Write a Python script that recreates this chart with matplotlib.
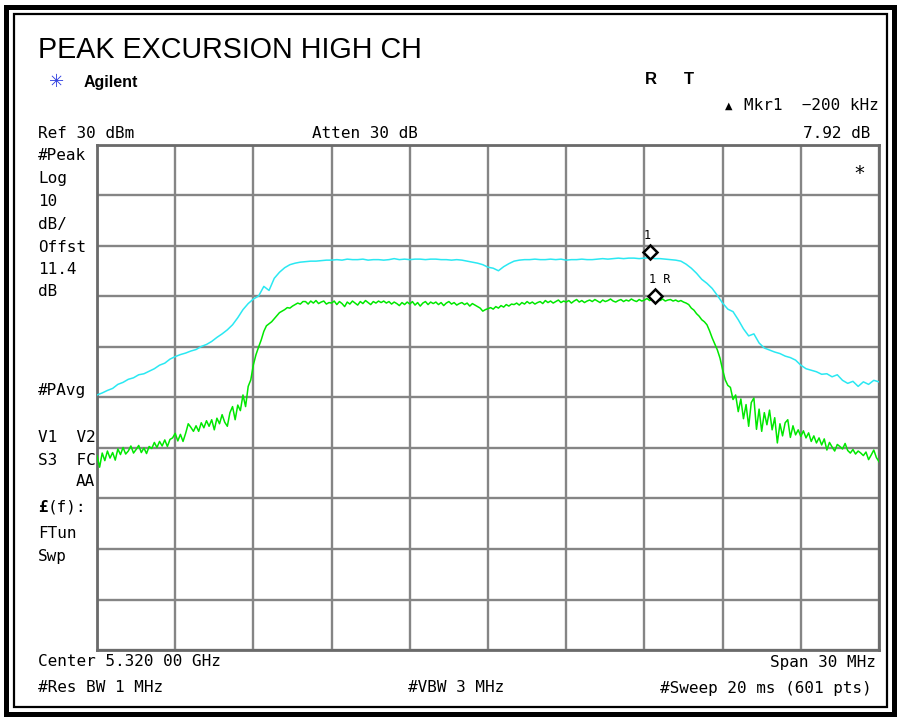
import numpy as np
import matplotlib
matplotlib.use("Agg")
import matplotlib.pyplot as plt
from matplotlib.patches import Rectangle
from matplotlib.transforms import ScaledTranslation

# ---------------- data ----------------
center_ghz = 5.320
span_mhz = 30.0
ref_level = 30.0
db_per_div = 10.0

# Peak trace (cyan), every 0.2 MHz from -15 to +15 MHz offset
cyan_freq_step = 0.2
cyan_dbm = [
    -19.5, -19.1, -18.6, -18.2, -17.4, -17.0, -16.4, -16.1, -15.5, -15.3,
    -14.8, -14.3, -13.6, -13.2, -12.4, -11.9, -11.5, -11.2, -10.8, -10.5,
    -9.9, -9.5, -8.9, -8.1, -7.4, -6.6, -5.6, -4.2, -2.6, -1.4,
    -0.5, 0.1, 2.0, 1.2, 3.6, 4.8, 5.7, 6.3, 6.6, 6.8,
    6.9, 7.0, 7.0, 7.1, 7.2, 7.2, 7.3, 7.2, 7.4, 7.3,
    7.3, 7.4, 7.2, 7.3, 7.3, 7.2, 7.3, 7.5, 7.3, 7.4,
    7.3, 7.4, 7.4, 7.3, 7.4, 7.4, 7.3, 7.3, 7.2, 7.3,
    7.2, 7.0, 6.8, 6.6, 6.3, 5.8, 5.6, 5.1, 5.9, 6.5,
    7.0, 7.2, 7.3, 7.3, 7.4, 7.3, 7.3, 7.4, 7.3, 7.4,
    7.2, 7.3, 7.3, 7.4, 7.3, 7.3, 7.4, 7.5, 7.4, 7.5,
    7.6, 7.5, 7.6, 7.6, 7.5, 7.6, 7.7, 7.5, 7.5, 7.4,
    7.3, 7.2, 7.0, 6.4, 5.6, 4.6, 3.4, 2.6, 1.6, 0.2,
    -1.3, -2.5, -3.0, -4.6, -6.4, -7.8, -7.4, -9.2, -10.2, -10.6,
    -11.0, -11.3, -11.8, -12.1, -12.6, -13.6, -14.3, -14.6, -14.9, -15.4,
    -15.3, -15.9, -15.5, -16.6, -17.2, -16.8, -17.8, -16.9, -17.4, -16.6,
    -16.9,
]

# Average trace (green), every 0.1 MHz from -15 to +15 MHz offset
green_freq_step = 0.1
green_dbm = [
    -31.5, -33.8, -31.0, -32.5, -30.6, -32.0, -30.9, -32.4, -30.2, -31.3,
    -29.9, -31.2, -30.6, -29.6, -31.0, -30.3, -29.5, -30.9, -30.0, -31.1,
    -29.7, -30.1, -28.9, -29.9, -28.7, -29.6, -28.4, -29.7, -28.3, -28.0,
    -27.1, -28.6, -27.3, -28.7, -27.1, -25.2, -25.9, -26.7, -25.6, -26.7,
    -25.0, -26.0, -24.6, -25.7, -24.4, -26.4, -24.1, -25.2, -23.4, -24.9,
    -25.7, -23.0, -21.8, -24.4, -21.5, -22.6, -19.5, -21.8, -17.8, -16.5,
    -13.5, -11.5, -10.0, -8.6, -6.9, -5.8, -5.4, -5.0, -4.4, -3.8,
    -3.2, -2.9, -2.6, -2.2, -2.3, -1.9, -1.6, -1.3, -1.5, -1.0,
    -1.0, -1.5, -0.9, -1.3, -0.8, -1.4, -1.1, -0.9, -1.5, -1.2,
    -1.3, -0.9, -1.6, -1.0, -1.4, -2.0, -1.1, -1.5, -0.9, -1.3,
    -1.7, -1.0, -1.4, -0.8, -1.2, -1.6, -1.0, -1.3, -0.9, -1.2,
    -0.9, -1.3, -1.0, -1.5, -1.1, -1.4, -1.8, -1.2, -1.6, -1.1,
    -1.5, -1.0, -1.7, -1.2, -1.9, -1.3, -1.0, -1.6, -1.1, -1.4,
    -1.1, -1.6, -1.2, -1.8, -1.3, -1.0, -1.5, -1.2, -1.7, -1.4,
    -1.2, -1.6, -1.3, -1.9, -1.4, -1.7, -2.0, -2.3, -2.9, -2.6,
    -2.4, -2.2, -2.5, -2.0, -2.3, -1.8, -2.1, -1.6, -1.9, -1.5,
    -1.6, -1.3, -1.7, -1.2, -1.5, -1.0, -1.4, -1.1, -1.5, -1.2,
    -1.0, -1.4, -0.8, -1.2, -0.9, -1.3, -1.0, -0.7, -1.2, -0.9,
    -1.1, -0.8, -1.3, -0.9, -0.6, -1.1, -0.8, -1.2, -0.9, -0.7,
    -1.0, -0.6, -0.9, -1.2, -0.7, -1.0, -0.8, -0.5, -0.9, -1.1,
    -0.8, -0.6, -1.0, -0.7, -0.9, -0.5, -0.8, -1.0, -0.6, -0.9,
    -0.7, -0.4, -0.8, -0.5, -0.9, -0.6, -0.8, -0.5, -0.9, -0.7,
    -0.6, -0.9, -0.7, -1.0, -0.8, -1.1, -1.3, -1.6, -2.3, -2.7,
    -3.4, -3.9, -4.6, -5.0, -5.6, -6.8, -8.2, -9.4, -10.6, -12.2,
    -14.5, -16.5, -17.6, -18.0, -20.4, -19.5, -22.8, -20.3, -24.2, -21.4,
    -25.7, -21.0, -20.1, -26.3, -22.3, -26.7, -23.0, -25.4, -22.5, -26.4,
    -24.0, -29.0, -25.2, -27.6, -25.0, -24.4, -27.9, -25.6, -27.4, -26.4,
    -27.7, -26.6, -28.0, -27.0, -28.7, -27.6, -29.0, -28.0, -29.4, -28.2,
    -30.4, -28.9, -29.8, -30.6, -29.3, -29.7, -30.2, -29.1, -30.5, -31.0,
    -30.3, -31.2, -30.6, -31.0, -31.5, -30.8, -32.3, -31.4, -30.4, -31.9,
    -32.7,
]

marker1_mhz = 6.2      # marker 1 on peak trace
marker1r_mhz = 6.4     # reference marker on average trace

# ---------------- figure ----------------
W, H = 899, 720
fig = plt.figure(figsize=(W / 100, H / 100), dpi=100)
fig.patch.set_facecolor("white")

def fx(px):
    return px / W

def fy(py):
    return 1 - py / H

ax = fig.add_axes([fx(97), fy(650), (879 - 97) / W, (650 - 145) / H])

half = span_mhz / 2
cyan_f = -half + cyan_freq_step * np.arange(len(cyan_dbm))
green_f = -half + green_freq_step * np.arange(len(green_dbm))

ax.plot(cyan_f, cyan_dbm, color="#2ae8f2", lw=1.1, zorder=3)
ax.plot(green_f, green_dbm, color="#00e800", lw=1.1, zorder=4)

ax.set_xlim(-half, half)
ax.set_ylim(ref_level - 10 * db_per_div, ref_level)
ax.set_xticks(np.linspace(-half, half, 11))
ax.set_yticks(np.linspace(ref_level - 10 * db_per_div, ref_level, 11))
ax.grid(True, color="#858585", lw=1.7)
ax.tick_params(length=0, labelbottom=False, labelleft=False)
for s in ax.spines.values():
    s.set_color("#6a6a6a")
    s.set_linewidth(2.0)
ax.set_facecolor("white")

# markers
mono = "DejaVu Sans Mono"
m1 = float(np.interp(marker1_mhz, cyan_f, cyan_dbm))
m1r = float(np.interp(marker1r_mhz, green_f, green_dbm))
up = ScaledTranslation(0, 5.5 / 100, fig.dpi_scale_trans)
for f, v, lab in [(marker1_mhz, m1, "1"), (marker1r_mhz, m1r, "1 R")]:
    ax.plot([f], [v], marker="D", ms=7, mfc="white", mec="black", mew=1.8,
            transform=ax.transData + up, zorder=6, clip_on=False)
    ax.annotate(lab, (f, v), xytext=(-4, 11), textcoords="offset points",
                fontsize=8.5, family=mono, ha="left", va="bottom", zorder=6)

# ---------------- texts ----------------
fs = 11.5
fig.text(fx(38), fy(50), "PEAK EXCURSION HIGH CH", fontsize=20.6,
         family="Liberation Sans", va="center", ha="left")
fig.text(fx(84), fy(82), "Agilent", fontsize=11.5, weight="bold",
         family="Liberation Sans", va="center", ha="left")
fig.text(fx(57), fy(82), "\u2733", fontsize=13, color="#3040e0",
         family="DejaVu Sans", va="center", ha="center")
fig.text(fx(645), fy(80), "R", fontsize=12, weight="bold",
         family="Liberation Sans", va="center", ha="left")
fig.text(fx(684), fy(80), "T", fontsize=12, weight="bold",
         family="Liberation Sans", va="center", ha="left")
fig.text(fx(729), fy(106), "\u25b2", fontsize=7, family="DejaVu Sans",
         va="center", ha="center")
fig.text(fx(879), fy(106), "Mkr1  \u2212200 kHz", fontsize=fs, family=mono,
         va="center", ha="right")
fig.text(fx(870), fy(133), "7.92 dB", fontsize=fs, family=mono,
         va="center", ha="right")
fig.text(fx(38), fy(133), "Ref 30 dBm", fontsize=fs, family=mono,
         va="center", ha="left")
fig.text(fx(312), fy(133), "Atten 30 dB", fontsize=fs, family=mono,
         va="center", ha="left")
fig.text(fx(859), fy(173), "*", fontsize=14, family=mono,
         va="center", ha="center")

left_labels = [("#Peak", 155), ("Log", 178), ("10", 201), ("dB/", 224),
               ("Offst", 248), ("11.4", 270), ("dB", 291), ("#PAvg", 391),
               ("V1  V2", 438), ("S3  FC", 461), ("FTun", 533), ("Swp", 557)]
for t, y in left_labels:
    fig.text(fx(38), fy(y), t, fontsize=fs, family=mono, va="center", ha="left")
fig.text(fx(95), fy(482), "AA", fontsize=fs, family=mono, va="center", ha="right")
fig.text(fx(38), fy(507), "\u00a3", fontsize=fs, family=mono, weight="bold",
         va="center", ha="left")
fig.text(fx(48), fy(507), "(f):", fontsize=fs, family=mono, va="center", ha="left")

fig.text(fx(38), fy(662), "Center %.3f 00 GHz" % center_ghz, fontsize=fs,
         family=mono, va="center", ha="left")
fig.text(fx(876), fy(662), "Span %d MHz" % span_mhz, fontsize=fs, family=mono,
         va="center", ha="right")
fig.text(fx(38), fy(688), "#Res BW 1 MHz", fontsize=fs, family=mono,
         va="center", ha="left")
fig.text(fx(408), fy(688), "#VBW 3 MHz", fontsize=fs, family=mono,
         va="center", ha="left")
fig.text(fx(872), fy(688), "#Sweep 20 ms (601 pts)", fontsize=fs, family=mono,
         va="center", ha="right")

# frame
fig.add_artist(Rectangle((fx(6), fy(714)), (894 - 6) / W, (714 - 7) / H,
                         fill=False, ec="black", lw=3.6,
                         transform=fig.transFigure))
fig.add_artist(Rectangle((fx(13.5), fy(707)), (887 - 13.5) / W, (707 - 14) / H,
                         fill=False, ec="black", lw=1.6,
                         transform=fig.transFigure))

fig.savefig("out.png", dpi=100)
